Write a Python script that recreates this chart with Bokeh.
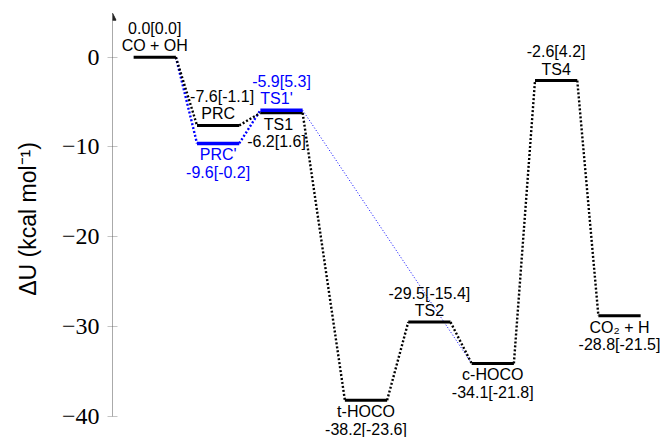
from bokeh.plotting import figure
from bokeh.models import (Range1d, LinearAxis, FixedTicker, Arrow, NormalHead,
                          ColumnDataSource)
from bokeh.core.properties import value
from bokeh.embed import file_html
from bokeh.resources import INLINE

# Stationary points of the OH + CO reaction: ΔU and the bracketed second value
states = ["CO + OH", "PRC", "PRC'", "TS1", "TS1'", "t-HOCO", "TS2", "c-HOCO", "TS4", "CO\u2082 + H"]
energy = [0.0, -7.6, -9.6, -6.2, -5.9, -38.2, -29.5, -34.1, -2.6, -28.8]
energy_b = [0.0, -1.1, -0.2, 1.6, 5.3, -23.6, -15.4, -21.8, 4.2, -21.5]
column = [0, 1, 1, 2, 2, 3, 4, 5, 6, 7]
branch = ["main", "main", "alt", "main", "alt", "main", "main", "main", "main", "main"]

main_path = ["CO + OH", "PRC", "TS1", "t-HOCO", "TS2", "c-HOCO", "TS4", "CO\u2082 + H"]
alt_path = ["CO + OH", "PRC'", "TS1'", "c-HOCO"]

y_ticks = [0, -10, -20, -30, -40]

BLUE = "#0000ff"
LABEL_FONT = "Liberation Sans"
AXIS_GREY = "#555555"

# level i sits in column c: width 1, gap 0.5, with a wider gap before the HOCO wells
def col_x(c):
    return 1.5 * c + (0.5 if c >= 3 else 0.0)

xs = [col_x(c) for c in column]
pos = {s: (x, e) for s, x, e in zip(states, xs, energy)}

p = figure(width=660, height=437,
           x_range=Range1d(-0.5, 12.47), y_range=Range1d(-42.35, 6.31),
           output_backend="svg", toolbar_location=None,
           x_axis_location=None, y_axis_location=None,
           min_border_left=112, min_border_right=0,
           min_border_top=0, min_border_bottom=0)
p.outline_line_color = None
p.grid.visible = False
p.background_fill_color = "white"
p.border_fill_color = "white"

# y axis: ticks and labels from the axis, its line drawn as an arrow
yaxis = LinearAxis(ticker=FixedTicker(ticks=y_ticks), bounds=(-40, 5.8))
yaxis.major_label_overrides = {t: (str(t) if t >= 0 else "\u2212" + str(-t)) for t in y_ticks}
yaxis.major_label_text_font = "Liberation Serif"
yaxis.major_label_text_font_size = "24px"
yaxis.major_label_text_color = "black"
yaxis.major_label_standoff = 8
yaxis.major_tick_in = 5
yaxis.major_tick_out = 5
yaxis.major_tick_line_color = "#c4c4c4"
yaxis.minor_tick_line_color = None
yaxis.axis_line_color = None
yaxis.axis_label = "\u0394U (kcal mol\u207b\u00b9)"
yaxis.axis_label_text_font = LABEL_FONT
yaxis.axis_label_text_font_size = "23px"
yaxis.axis_label_text_font_style = "normal"
yaxis.axis_label_text_color = "black"
yaxis.axis_label_standoff = 18
p.add_layout(yaxis, "left")

p.add_layout(Arrow(end=NormalHead(size=7, fill_color="#222222", line_color="#222222", line_width=1),
                   x_start=-0.5, y_start=-40, x_end=-0.5, y_end=4.9,
                   line_color=AXIS_GREY, line_width=1))

# dotted connectors between consecutive levels
def connectors(path):
    x0, y0, x1, y1 = [], [], [], []
    for a, b in zip(path[:-1], path[1:]):
        xa, ea = pos[a]
        xb, eb = pos[b]
        x0.append(xa + 1)
        y0.append(ea)
        x1.append(xb)
        y1.append(eb)
    return dict(x0=x0, y0=y0, x1=x1, y1=y1)

alt = connectors(alt_path)
p.segment(x0=alt["x0"][:2], y0=alt["y0"][:2], x1=alt["x1"][:2], y1=alt["y1"][:2],
          line_color=BLUE, line_width=2.4, line_dash="2 2")
p.segment(x0=alt["x0"][2:], y0=alt["y0"][2:], x1=alt["x1"][2:], y1=alt["y1"][2:],
          line_color=BLUE, line_width=1, line_dash="1 2")
main = connectors(main_path)
p.segment(x0="x0", y0="y0", x1="x1", y1="y1", source=ColumnDataSource(main),
          line_color="black", line_width=2.4, line_dash="2 2")

# energy levels
main_i = [i for i, b in enumerate(branch) if b == "main"]
alt_i = [i for i, b in enumerate(branch) if b == "alt"]
p.segment(x0=[xs[i] for i in main_i], y0=[energy[i] for i in main_i],
          x1=[xs[i] + 1 for i in main_i], y1=[energy[i] for i in main_i],
          line_color="black", line_width=3)
p.segment(x0=[xs[i] for i in alt_i], y0=[energy[i] for i in alt_i],
          x1=[xs[i] + 1 for i in alt_i], y1=[energy[i] for i in alt_i],
          line_color=BLUE, line_width=3.5)

# labels: name next to the bar, value pair further out
above = {"CO + OH", "PRC", "TS1'", "TS2", "TS4"}
nudge = {"PRC": (0, 4), "TS1": (-3, -5), "TS1'": (-5, 0)}
lx, ly, ltext, lxo, lyo, lcol = [], [], [], [], [], []
for s, x, e, eb, b in zip(states, xs, energy, energy_b, branch):
    colr = BLUE if b == "alt" else "black"
    n_dx, v_dx = nudge.get(s, (0, 0))
    sign = -1 if s in above else 1
    for txt, off, dx in ((s, 11.5, n_dx), (f"{e:.1f}[{eb:.1f}]", 29.0, v_dx)):
        lx.append(x + 0.5)
        ly.append(e)
        ltext.append(txt)
        lxo.append(dx)
        lyo.append(sign * off)
        lcol.append(colr)

p.text(x="x", y="y", text="text", x_offset="xo", y_offset="yo", text_color="color",
       source=ColumnDataSource(dict(x=lx, y=ly, text=ltext, xo=lxo, yo=lyo, color=lcol)),
       text_align="center", text_baseline="middle",
       text_font=value(LABEL_FONT), text_font_size="16px")

open("out.html", "w").write(file_html(p, INLINE))
